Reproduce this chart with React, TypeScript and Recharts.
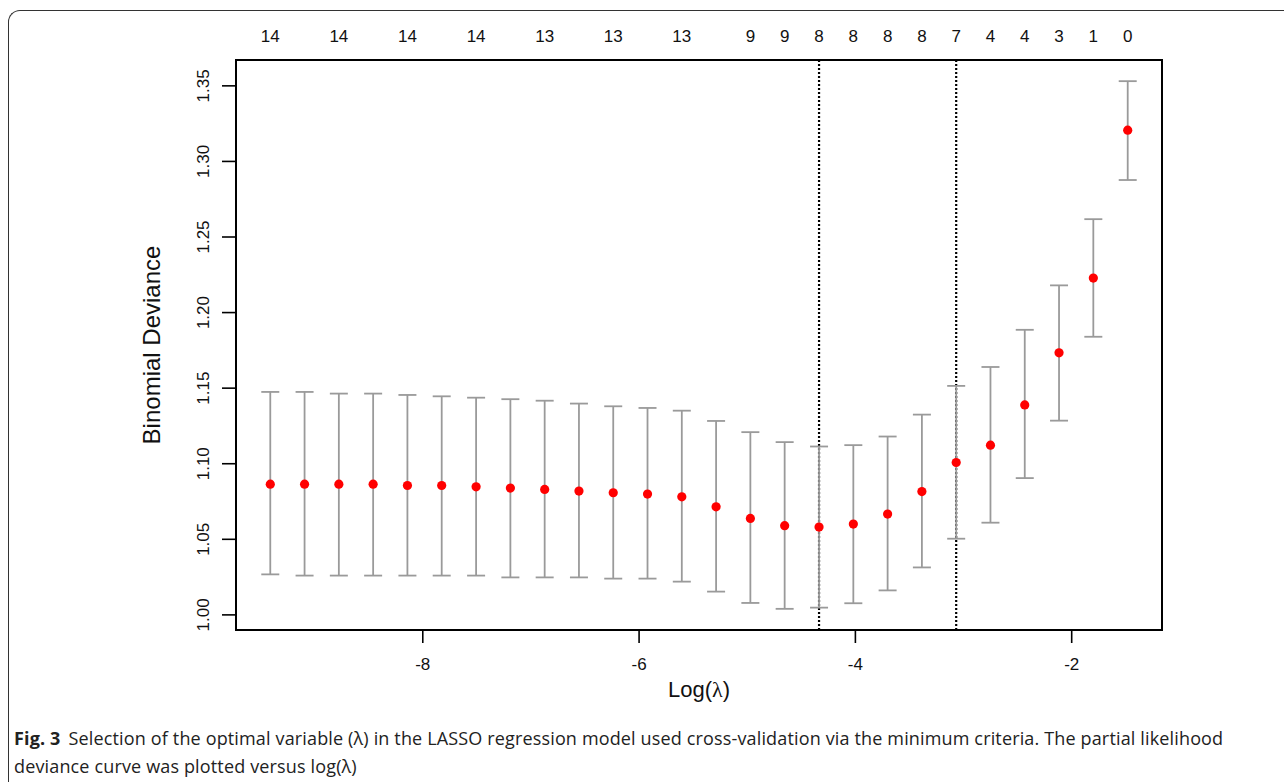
import React from 'react';
import {
  ComposedChart,
  Scatter,
  XAxis,
  YAxis,
  ErrorBar,
  ReferenceLine,
  ReferenceArea,
} from 'recharts';

// log(lambda) values of the cross-validation path
const logLambda = [
  -9.41, -9.093, -8.776, -8.459, -8.142, -7.825, -7.507, -7.19, -6.873, -6.556,
  -6.239, -5.922, -5.605, -5.288, -4.971, -4.654, -4.336, -4.019, -3.702, -3.385,
  -3.068, -2.751, -2.434, -2.117, -1.8, -1.482,
];
// mean cross-validated binomial deviance
const meanDeviance = [
  1.0865, 1.0865, 1.0865, 1.0865, 1.0856, 1.0856, 1.0847, 1.0839, 1.083, 1.0819,
  1.0808, 1.0799, 1.0781, 1.0715, 1.0638, 1.059, 1.0581, 1.0601, 1.0667, 1.0816,
  1.1008, 1.1123, 1.1389, 1.1734, 1.2228, 1.3207,
];
// upper bound (mean + 1 SE)
const upperDeviance = [
  1.1475, 1.1475, 1.1464, 1.1464, 1.1455, 1.1446, 1.1437, 1.1427, 1.1417, 1.1398,
  1.138, 1.1369, 1.1351, 1.1283, 1.1209, 1.1143, 1.1114, 1.1123, 1.118, 1.1325,
  1.1515, 1.164, 1.1886, 1.218, 1.2618, 1.3531,
];
// lower bound (mean - 1 SE)
const lowerDeviance = [
  1.0268, 1.026, 1.026, 1.026, 1.026, 1.026, 1.026, 1.0248, 1.0248, 1.0248,
  1.024, 1.024, 1.022, 1.0154, 1.0079, 1.004, 1.0048, 1.0077, 1.0162, 1.0314,
  1.0504, 1.061, 1.0905, 1.1285, 1.184, 1.2877,
];

// top axis: number of non-zero coefficients (labels R kept after overlap removal)
const topTickPositions = [
  -9.41, -8.776, -8.142, -7.507, -6.873, -6.239, -5.605, -4.971, -4.654, -4.336,
  -4.019, -3.702, -3.385, -3.068, -2.751, -2.434, -2.117, -1.8, -1.482,
];
const topTickLabels = [
  '14', '14', '14', '14', '13', '13', '13', '9', '9', '8', '8', '8', '8', '7', '4', '4', '3', '1', '0',
];

const xTicks = [-8, -6, -4, -2];
const yTicks = [1.0, 1.05, 1.1, 1.15, 1.2, 1.25, 1.3, 1.35];
const xDomain: [number, number] = [-9.727, -1.165];
const yDomain: [number, number] = [0.99, 1.3671];
const lambdaMin = -4.336;
const lambda1se = -3.068;

const tableData = logLambda.map((x, i) => ({
  x,
  mean: meanDeviance[i],
  err: [meanDeviance[i] - lowerDeviance[i], upperDeviance[i] - meanDeviance[i]],
}));

const AXIS_FONT = '"Liberation Sans", Arial, Helvetica, sans-serif';

const TopTick = (props: any) => {
  const { x, y, payload } = props;
  const idx = topTickPositions.indexOf(payload.value);
  return (
    <text
      x={x}
      y={y - 18}
      textAnchor="middle"
      fontFamily={AXIS_FONT}
      fontSize={17}
      fill="#111"
    >
      {idx >= 0 ? topTickLabels[idx] : ''}
    </text>
  );
};

const LeftTick = (props: any) => {
  const { x, y, payload } = props;
  return (
    <text
      x={x}
      y={y}
      transform={`rotate(-90, ${x}, ${y})`}
      textAnchor="middle"
      fontFamily={AXIS_FONT}
      fontSize={17}
      fill="#111"
    >
      {Number(payload.value).toFixed(2)}
    </text>
  );
};

const BottomTick = (props: any) => {
  const { x, y, payload } = props;
  return (
    <text x={x} y={y + 25} textAnchor="middle" fontFamily={AXIS_FONT} fontSize={17} fill="#111">
      {String(payload.value)}
    </text>
  );
};

const Dot = (props: any) => {
  const { cx, cy } = props;
  return <circle cx={cx} cy={cy} r={4.6} fill="#ff0000" />;
};

export default function App() {
  return (
    <div
      style={{
        position: 'absolute',
        left: 0,
        top: 0,
        width: 1284,
        height: 782,
        background: '#fff',
        overflow: 'hidden',
      }}
    >
      <div
        style={{
          position: 'absolute',
          left: 8,
          top: 10,
          width: 1300,
          height: 800,
          borderTop: '1.5px solid #333',
          borderLeft: '1.5px solid #333',
          borderTopLeftRadius: 12,
        }}
      />
      <div style={{ position: 'absolute', left: 0, top: 0 }}>
        <ComposedChart
          width={1284}
          height={782}
          data={tableData}
          margin={{ top: 10, right: 122, bottom: 92, left: 156 }}
        >
          <XAxis
            xAxisId="bottom"
            dataKey="x"
            type="number"
            domain={xDomain}
            allowDataOverflow
            ticks={xTicks}
            tickSize={13}
            tickLine={{ stroke: '#000', strokeWidth: 1.6 }}
            axisLine={false}
            tick={<BottomTick />}
            height={60}
            label={(p: any) => {
              const vb = p.viewBox || {};
              return (
                <text
                  x={vb.x + vb.width / 2}
                  y={vb.y + 67}
                  textAnchor="middle"
                  fontFamily={AXIS_FONT}
                  fontSize={22}
                  fill="#111"
                >
                  Log(
                  <tspan fontFamily='"Liberation Serif", "DejaVu Serif", serif'>λ</tspan>)
                </text>
              );
            }}
          />
          <XAxis
            xAxisId="top"
            orientation="top"
            dataKey="x"
            type="number"
            domain={xDomain}
            allowDataOverflow
            ticks={topTickPositions}
            tickSize={0}
            tickMargin={0}
            tickLine={false}
            axisLine={false}
            tick={<TopTick />}
            height={50}
            interval={0}
          />
          <YAxis
            yAxisId="left"
            type="number"
            domain={yDomain}
            allowDataOverflow
            ticks={yTicks}
            tickSize={14}
            tickMargin={13}
            tickLine={{ stroke: '#000', strokeWidth: 1.6 }}
            axisLine={false}
            tick={<LeftTick />}
            width={80}
            interval={0}
            label={(p: any) => {
              const vb = p.viewBox || {};
              const cx = vb.x + 4;
              const cy = vb.y + vb.height / 2;
              return (
                <text
                  x={cx}
                  y={cy}
                  transform={`rotate(-90, ${cx}, ${cy})`}
                  textAnchor="middle"
                  fontFamily={AXIS_FONT}
                  fontSize={24}
                  fill="#111"
                >
                  Binomial Deviance
                </text>
              );
            }}
          />
          <ReferenceArea
            xAxisId="bottom"
            yAxisId="left"
            x1={xDomain[0]}
            x2={xDomain[1]}
            y1={yDomain[0]}
            y2={yDomain[1]}
            fill="none"
            stroke="#000"
            strokeWidth={2}
            ifOverflow="visible"
          />
          <ReferenceLine
            xAxisId="bottom"
            yAxisId="left"
            x={lambdaMin}
            stroke="#000"
            strokeWidth={2.2}
            strokeDasharray="2 2"
          />
          <ReferenceLine
            xAxisId="bottom"
            yAxisId="left"
            x={lambda1se}
            stroke="#000"
            strokeWidth={2.2}
            strokeDasharray="2 2"
          />
          <Scatter
            xAxisId="bottom"
            yAxisId="left"
            dataKey="mean"
            data={tableData}
            shape={<Dot />}
            isAnimationActive={false}
          >
            <ErrorBar
              dataKey="err"
              direction="y"
              width={9}
              stroke="#9a9a9a"
              strokeWidth={1.8}
              isAnimationActive={false}
            />
          </Scatter>
        </ComposedChart>
      </div>
      <div
        style={{
          position: 'absolute',
          left: 14,
          top: 724,
          width: 1270,
          fontFamily: '"Open Sans", "Noto Sans", sans-serif',
          fontSize: 18,
          lineHeight: '28px',
          color: '#222',
          letterSpacing: '0.15px',
          whiteSpace: 'nowrap',
        }}
      >
        <div>
          <span style={{ fontWeight: 700 }}>Fig. 3</span>
          <span style={{ marginLeft: 8 }}>
            Selection of the optimal variable (λ) in the LASSO regression model used cross-validation
            via the minimum criteria. The partial likelihood
          </span>
        </div>
        <div>deviance curve was plotted versus log(λ)</div>
      </div>
    </div>
  );
}
